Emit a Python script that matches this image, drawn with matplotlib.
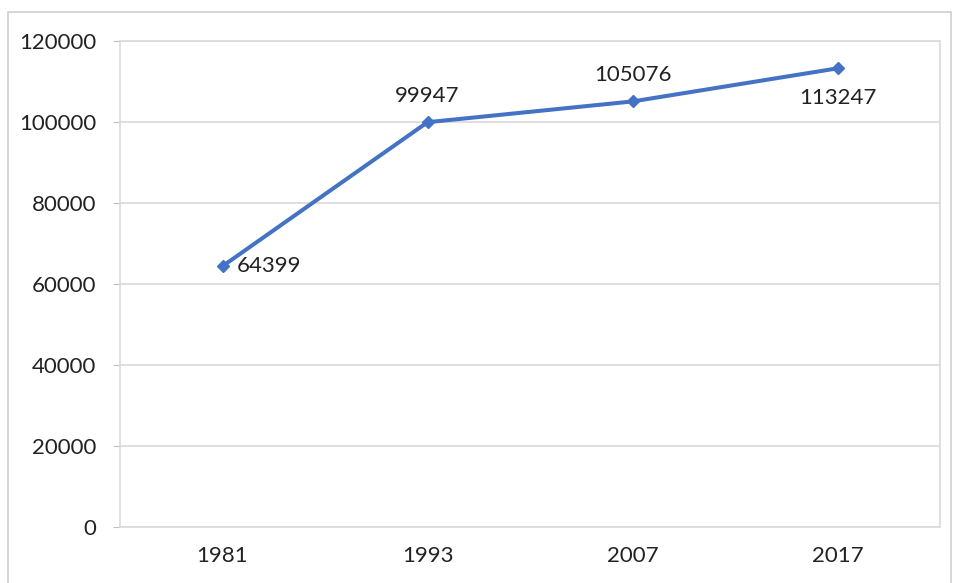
import matplotlib
matplotlib.use("Agg")
import matplotlib.pyplot as plt
from matplotlib.patches import Rectangle

years = ["1981", "1993", "2007", "2017"]
values = [64399, 99947, 105076, 113247]
yticks = [0, 20000, 40000, 60000, 80000, 100000, 120000]
label_pos = ["right", "above", "above", "below"]

plt.rcParams['font.family'] = ['Lato', 'DejaVu Sans']

fig = plt.figure(figsize=(9.55, 5.83), dpi=100)
fig.patch.set_facecolor("white")

W, H = 955, 583
# outer chart frame (bottom edge lies below the visible image)
fig.add_artist(Rectangle((8 / W, -0.02), (951 - 8) / W, 1.02 - 12 / H, transform=fig.transFigure,
                         fill=False, edgecolor="#d0d0d0", linewidth=1.2, clip_on=False))

ax = fig.add_axes([120 / W, 1 - 527 / H, (940 - 120) / W, (527 - 41) / H])
x = list(range(len(years)))
ax.plot(x, values, color="#4472C4", linewidth=2.9, marker="D", markersize=6.5,
        markerfacecolor="#4472C4", markeredgecolor="#4472C4", zorder=3)

ax.set_xlim(-0.5, len(years) - 0.5)
ax.set_ylim(0, 120000)
ax.set_xticks(x)
ax.set_xticklabels(years)
ax.set_yticks(yticks)
ax.set_yticklabels([str(v) for v in yticks])
ax.grid(axis="y", color="#d9d9d9", linewidth=1.2)
ax.set_axisbelow(True)

for s in ["left", "right", "top", "bottom"]:
    ax.spines[s].set_color("#d9d9d9")
    ax.spines[s].set_linewidth(1.2)

ax.tick_params(axis="y", length=5, color="#bfbfbf", labelsize=16, pad=12, labelcolor="#222222")
ax.tick_params(axis="x", length=0, labelsize=16, pad=14, labelcolor="#222222")

for xi, v, p in zip(x, values, label_pos):
    if p == "right":
        ax.annotate(str(v), (xi, v), xytext=(10, 0), textcoords="offset points",
                    ha="left", va="center", fontsize=16, color="#222222")
    elif p == "above":
        ax.annotate(str(v), (xi, v), xytext=(0, 12), textcoords="offset points",
                    ha="center", va="bottom", fontsize=16, color="#222222")
    else:
        ax.annotate(str(v), (xi, v), xytext=(0, -14), textcoords="offset points",
                    ha="center", va="top", fontsize=16, color="#222222")

fig.savefig("out.png", dpi=100, facecolor="white")
